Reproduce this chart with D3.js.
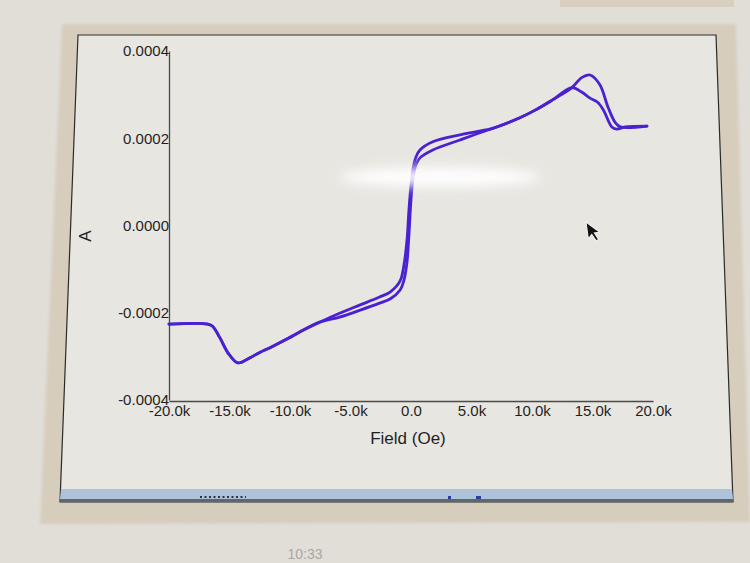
<!DOCTYPE html>
<html>
<head>
<meta charset="utf-8">
<script src="https://cdn.jsdelivr.net/npm/d3@7"></script>
<style>
    body { margin: 0; background: #e2dfda; }
    svg { display: block; }
</style>
</head>
<body>
<div id="chart"></div>
<script>
// field ticks (Oe) and labels
const fieldTicks = [-20000, -15000, -10000, -5000, 0, 5000, 10000, 15000, 20000];
const fieldLabels = ["-20.0k", "-15.0k", "-10.0k", "-5.0k", "0.0", "5.0k", "10.0k", "15.0k", "20.0k"];
const aTicks = [-0.0004, -0.0002, 0, 0.0002, 0.0004];
const aLabels = ["-0.0004", "-0.0002", "0.0000", "0.0002", "0.0004"];

// sweep up (lower / right branch), field in kOe, A in 1e-4
const upField = [-20, -16.8, -16.4, -15.8, -15.1, -14.3, -13.3, -12.5, -11.65, -10.1, -9.2, -7.5,
    -5.9, -4.2, -2.6, -1.7, -0.9, -0.58, -0.33, -0.17, 0.0, 0.17, 0.41, 0.74,
    1.8, 4.05, 5.95, 6.5, 9.0, 10.3, 11.7, 13.3,
    14.1, 14.8, 15.6, 16.3, 16.9, 17.3, 19.5];
const upA = [-2.26, -2.26, -2.31, -2.57, -2.93, -3.15, -3.03, -2.91, -2.80, -2.58, -2.44, -2.21,
    -2.10, -1.94, -1.78, -1.68, -1.48, -1.25, -0.84, -0.22, 0.59, 1.09, 1.39, 1.55,
    1.73, 1.96, 2.15, 2.20, 2.47, 2.65, 2.88, 3.16,
    3.39, 3.45, 3.23, 2.70, 2.35, 2.26, 2.28];

// sweep down (upper / left branch)
const downField = [-20, -16.8, -16.4, -15.8, -15.1, -14.3, -13.3, -12.5, -11.65, -10.1, -9.2, -7.5,
    -5.9, -4.2, -2.6, -1.7, -0.9, -0.58, -0.33, -0.17, 0.0, 0.17, 0.41, 0.74,
    1.8, 4.05, 5.95, 6.5, 9.0, 10.3, 11.7, 13.3,
    14.1, 14.8, 15.4, 15.9, 16.6, 17.0, 17.7, 19.5];
const downA = [-2.26, -2.26, -2.31, -2.57, -2.93, -3.15, -3.03, -2.91, -2.80, -2.58, -2.44, -2.21,
    -2.01, -1.82, -1.64, -1.52, -1.27, -0.90, -0.33, 0.36, 0.93, 1.32, 1.57, 1.73,
    1.92, 2.08, 2.18, 2.21, 2.47, 2.65, 2.88, 3.16,
    3.06, 2.92, 2.83, 2.65, 2.26, 2.21, 2.26, 2.28];

(function () {
    var width = 750, height = 563;

    var svg = d3.select("#chart").append("svg")
        .attr("width", width)
        .attr("height", height);

    var defs = svg.append("defs");
    defs.append("filter").attr("id", "blur")
        .attr("x", "-50%").attr("y", "-200%").attr("width", "200%").attr("height", "500%")
        .append("feGaussianBlur").attr("stdDeviation", 6);
    defs.append("filter").attr("id", "soft")
        .append("feGaussianBlur").attr("stdDeviation", 1.5);

    // photo background: monitor shadow band + window
    svg.append("rect").attr("width", width).attr("height", height).attr("fill", "#e1ded8");
    svg.append("rect").attr("x", 560).attr("y", 0).attr("width", 174).attr("height", 7)
        .attr("fill", "#d8cfc1");
    svg.append("polygon")
        .attr("points", "62,24 736,24 750,522 40,524")
        .attr("fill", "#d7cdbd")
        .attr("filter", "url(#soft)");
    svg.append("polygon")
        .attr("points", "78,35 716,35 733,502 60,502")
        .attr("fill", "#e8e6e1")
        .attr("stroke", "#2a2a2a")
        .attr("stroke-width", 1.2);
    // task bar strip at bottom of window
    svg.append("polygon")
        .attr("points", "61,489 732,489 733,499 60,499")
        .attr("fill", "#aec2da");
    svg.append("rect").attr("x", 60).attr("y", 499).attr("width", 673).attr("height", 3)
        .attr("fill", "#5d6674");
    svg.append("line").attr("x1", 200).attr("x2", 246).attr("y1", 497).attr("y2", 497)
        .attr("stroke", "#333").attr("stroke-width", 2).attr("stroke-dasharray", "2,2.5");
    svg.append("rect").attr("x", 448).attr("y", 496).attr("width", 3).attr("height", 3).attr("fill", "#2a3f9a");
    svg.append("rect").attr("x", 476).attr("y", 496).attr("width", 5).attr("height", 3).attr("fill", "#2a3f9a");

    var x = d3.scaleLinear().domain([-20000, 20000]).range([169, 653]);
    var y = d3.scaleLinear().domain([-0.0004, 0.0004]).range([400, 51]);

    var g = svg.append("g")
        .style("font-family", "'Liberation Sans', Arial, sans-serif");

    var xAxis = g.append("g")
        .attr("transform", "translate(0,401)")
        .call(d3.axisBottom(x)
            .tickValues(fieldTicks)
            .tickFormat((d, i) => fieldLabels[i])
            .tickSize(0).tickSizeOuter(0).tickPadding(4));

    var yAxis = g.append("g")
        .attr("transform", "translate(169,0)")
        .call(d3.axisLeft(y)
            .tickValues(aTicks)
            .tickFormat((d, i) => aLabels[i])
            .tickSize(0).tickSizeOuter(0).tickPadding(0));

    [xAxis, yAxis].forEach(function (a) {
        a.select(".domain").attr("stroke", "#4a4a4a").attr("stroke-width", 1.3);
        a.selectAll("text")
            .attr("fill", "#1f1f1f")
            .style("font-size", "15px")
            .style("font-family", "'Liberation Sans', Arial, sans-serif");
    });

    g.append("text")
        .attr("x", 408)
        .attr("y", 444)
        .attr("text-anchor", "middle")
        .attr("fill", "#1f1f1f")
        .style("font-size", "17px")
        .text("Field (Oe)");

    g.append("text")
        .attr("transform", "translate(91,236) rotate(-90)")
        .attr("text-anchor", "middle")
        .attr("fill", "#1f1f1f")
        .style("font-size", "17px")
        .text("A");

    var line = d3.line()
        .x(d => x(d[0] * 1000))
        .y(d => y(d[1] * 1e-4))
        .curve(d3.curveCatmullRom.alpha(0.5));

    var branches = [
        d3.zip(upField, upA),
        d3.zip(downField, downA)
    ];

    g.selectAll(".branch")
        .data(branches)
        .enter()
        .append("path")
        .attr("class", "branch")
        .attr("d", line)
        .attr("fill", "none")
        .attr("stroke", "#4a21d2")
        .attr("stroke-width", 2.8)
        .attr("stroke-linejoin", "round")
        .attr("stroke-linecap", "round");

    // screen glare
    svg.append("ellipse")
        .attr("cx", 440).attr("cy", 177)
        .attr("rx", 100).attr("ry", 10)
        .attr("fill", "#ffffff")
        .attr("opacity", 0.95)
        .attr("filter", "url(#blur)");

    // mouse pointer
    svg.append("path")
        .attr("transform", "translate(586,222) rotate(-8)")
        .attr("d", "M0,0 L0,17 L4,13 L7.5,20 L10,19 L6.7,12 L12,12 Z")
        .attr("fill", "#111")
        .attr("stroke", "#f4f4f4")
        .attr("stroke-width", 1);

    svg.append("text")
        .attr("x", 305)
        .attr("y", 559)
        .attr("text-anchor", "middle")
        .attr("fill", "#aaa7a2")
        .style("font-family", "'Liberation Sans', Arial, sans-serif")
        .style("font-size", "14px")
        .text("10:33");
})();
</script>
</body>
</html>
